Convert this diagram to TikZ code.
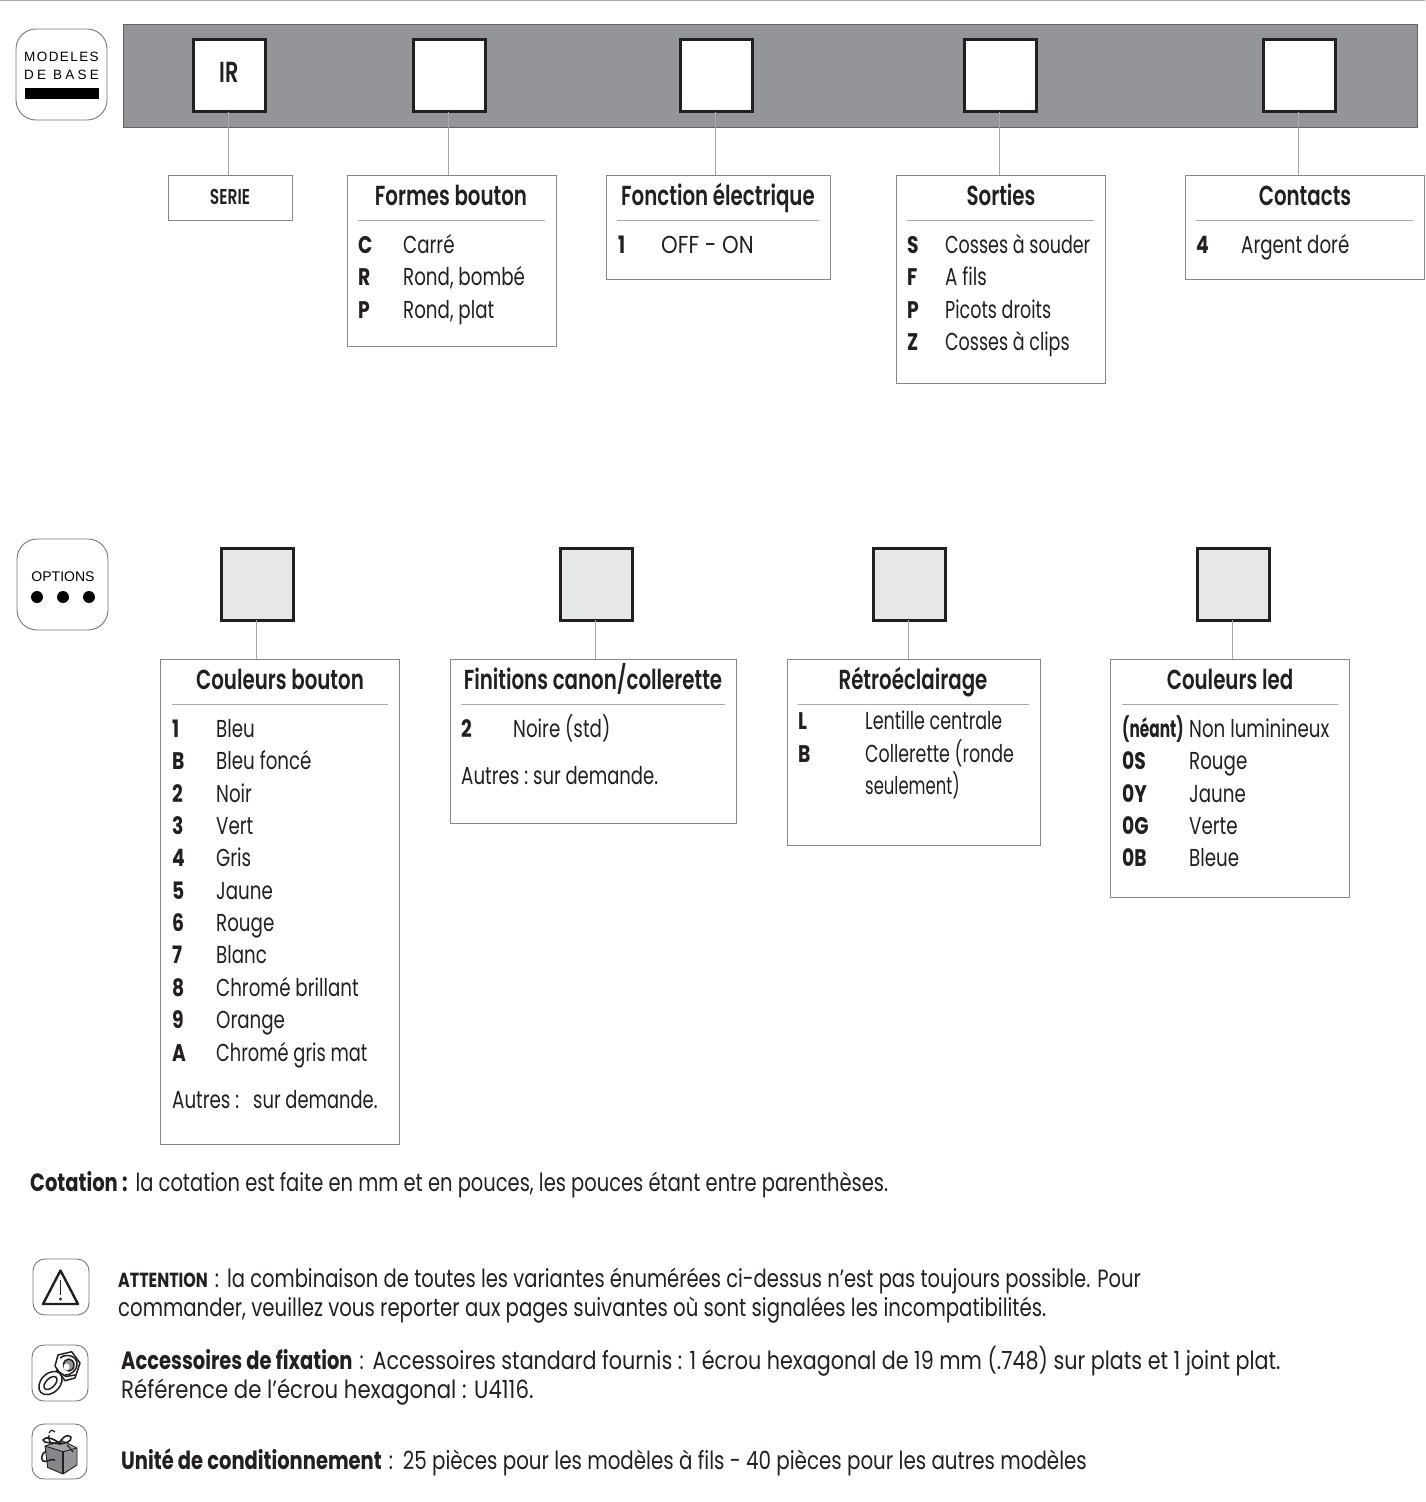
\documentclass[tikz,border=0pt]{standalone}
\usepackage{fontspec}
\setmainfont{Poppins}[FakeStretch=0.78]
\newfontfamily\lf{Poppins}[FakeStretch=0.745]
\newfontfamily\hf{Poppins SemiBold}[FakeStretch=0.72]
\newfontfamily\helv{Liberation Sans}
\usetikzlibrary{calc}
\definecolor{bandgray}{HTML}{939598}
\definecolor{ink}{HTML}{231F20}
\definecolor{optgray}{HTML}{E6E7E8}
\definecolor{rulegray}{HTML}{A7A9AC}
\newcount\tcnt
\newcommand{\txt}[4][]{\global\advance\tcnt by 1 \node[lbl,#1] (t\the\tcnt) at (#2,#3) {#4};}
\newcommand{\hd}[3]{\global\advance\tcnt by 1 \node[head] (t\the\tcnt) at (#1,#2) {#3};}
\newcommand{\itm}[4]{\txt[font=\fontsize{24}{24}\selectfont\bfseries]{#1}{#3}{#4}}
\newcommand{\lab}[3]{\txt{#1}{#2}{#3}}
\begin{document}
\begin{tikzpicture}[x=1pt,y=-1pt,line join=miter,
  lbl/.style={anchor=base west,inner sep=0pt,text=ink,font=\lf\fontsize{24.5}{24}\selectfont},
  para/.style={anchor=base west,inner sep=0pt,text=ink,font=\fontsize{25}{25}\selectfont},
  head/.style={anchor=base,inner sep=0pt,text=ink,font=\hf\fontsize{27.5}{27}\selectfont},
  bigsq/.style={draw=ink,line width=3pt,outer sep=0pt,anchor=north west,minimum width=72pt,minimum height=72pt,inner sep=0pt,fill=white,text=ink},
  optsq/.style={bigsq,fill=optgray},
  panel/.style={draw=rulegray!80!black,line width=0.9pt,outer sep=0pt,fill=white,anchor=north west,inner sep=0pt},
  link/.style={draw=rulegray,line width=1pt},
  hrule/.style={draw=rulegray,line width=0.8pt},
  icon/.style={draw=rulegray!70!black,line width=0.9pt,rounded corners=#1,fill=white}]
\useasboundingbox (0,0) rectangle (1425,1502);
\fill[rulegray] (0,0) rectangle (1425,1);
\fill[bandgray] (123,24) rectangle (1417,127);
\draw[ink!70,line width=0.7pt] (123,24) rectangle (1417,127);
% squares
\node[bigsq] (s1) at (193.3,39.5) {};
\node[anchor=base,inner sep=0pt,text=ink,font=\hf\fontsize{29}{29}\selectfont] (ir) at (229,82) {IR};
\node[bigsq] (s2) at (413.3,39.5) {};
\node[bigsq] (s3) at (680.3,39.5) {};
\node[bigsq] (s4) at (964.3,39.5) {};
\node[bigsq] (s5) at (1263.3,39.5) {};
\node[optsq] (o1) at (221.3,548.3) {};
\node[optsq] (o2) at (560.3,548.3) {};
\node[optsq] (o3) at (873.3,548.3) {};
\node[optsq] (o4) at (1197.3,548.3) {};
% panels
\node[panel,minimum width=124pt,minimum height=45pt] (b1) at (168.5,175) {};
\node[panel,minimum width=209pt,minimum height=171pt] (b2) at (347.5,175) {};
\node[panel,minimum width=224pt,minimum height=104pt] (b3) at (606,175) {};
\node[panel,minimum width=208.8pt,minimum height=208pt] (b4) at (896.7,175) {};
\node[panel,minimum width=238.8pt,minimum height=104pt] (b5) at (1185.7,175) {};
\node[panel,minimum width=238.8pt,minimum height=485pt] (p1) at (160.7,659) {};
\node[panel,minimum width=286pt,minimum height=164pt] (p2) at (450,659) {};
\node[panel,minimum width=253pt,minimum height=186pt] (p3) at (787,659) {};
\node[panel,minimum width=238.8pt,minimum height=238pt] (p4) at (1110.7,659) {};
% connectors
\foreach \a/\b in {s1/b1,s2/b2,s3/b3,s4/b4,s5/b5,o1/p1,o2/p2,o3/p3,o4/p4}
  \draw[link] ([xshift=-0.8pt]\a.south) -- ([xshift=-0.8pt]\a.south |- \b.north);
% header rules
\draw[hrule] (358,220) -- (545,220);
\draw[hrule] (617,220) -- (819,220);
\draw[hrule] (907,220) -- (1094,220);
\draw[hrule] (1196,220) -- (1413,220);
\draw[hrule] (172,704) -- (388,704);
\draw[hrule] (461,704) -- (725,704);
\draw[hrule] (798,704) -- (1029,704);
\draw[hrule] (1122,704) -- (1338,704);
% headers
\node[anchor=base,inner sep=0pt,text=ink,font=\hf\fontsize{21.5}{21}\selectfont] (serie) at (230,204) {SERIE};
\hd{451}{205}{Formes bouton}
\hd{718}{205}{Fonction électrique}
\hd{1001}{205}{Sorties}
\hd{1305}{205}{Contacts}
\hd{280}{689}{Couleurs bouton}
\hd{593}{689}{Finitions canon/collerette}
\hd{913}{689}{Rétroéclairage}
\hd{1230}{689}{Couleurs led}
% Formes
\itm{358}{403}{253}{C}\lab{403}{253}{Carré}
\itm{358}{403}{285}{R}\lab{403}{285}{Rond, bombé}
\itm{358}{403}{318}{P}\lab{403}{318}{Rond, plat}
% Fonction
\itm{618}{661}{253}{1}\lab{661}{253}{\scalebox{1.16}[1]{OFF - ON}}
% Sorties
\itm{907}{945}{253}{S}\lab{945}{253}{\scalebox{0.96}[1]{Cosses à souder}}
\itm{907}{945}{285}{F}\lab{945}{285}{A fils}
\itm{907}{945}{318}{P}\lab{945}{318}{\scalebox{0.96}[1]{Picots droits}}
\itm{907}{945}{350}{Z}\lab{945}{350}{\scalebox{0.96}[1]{Cosses à clips}}
% Contacts
\itm{1196}{1241}{253}{4}\lab{1241}{253}{Argent doré}
% Couleurs bouton
\itm{172}{216}{737}{1}\lab{216}{737}{Bleu}
\itm{172}{216}{769}{B}\lab{216}{769}{Bleu foncé}
\itm{172}{216}{802}{2}\lab{216}{802}{Noir}
\itm{172}{216}{834}{3}\lab{216}{834}{Vert}
\itm{172}{216}{866}{4}\lab{216}{866}{Gris}
\itm{172}{216}{899}{5}\lab{216}{899}{Jaune}
\itm{172}{216}{931}{6}\lab{216}{931}{Rouge}
\itm{172}{216}{963}{7}\lab{216}{963}{Blanc}
\itm{172}{216}{996}{8}\lab{216}{996}{Chromé brillant}
\itm{172}{216}{1028}{9}\lab{216}{1028}{Orange}
\itm{172}{216}{1061}{A}\lab{216}{1061}{\scalebox{0.975}[1]{Chromé gris mat}}
\lab{172}{1108}{Autres :\hspace{14pt}\scalebox{0.98}[1]{sur demande.}}
% Finitions
\itm{461}{513}{737}{2}\lab{513}{737}{Noire (std)}
\lab{461}{784}{Autres :\ \scalebox{0.985}[1]{sur demande.}}
% Retro
\itm{798}{865}{729}{L}\lab{865}{729}{\scalebox{0.96}[1]{Lentille centrale}}
\itm{798}{865}{762}{B}\lab{865}{762}{\scalebox{0.955}[1]{Collerette (ronde}}
\lab{865}{794}{\scalebox{0.90}[1]{seulement)}}
% Led
\itm{1122}{1189}{737}{\scalebox{0.82}[1]{(néant)}}\lab{1189}{737}{Non luminineux}
\itm{1122}{1189}{769}{0S}\lab{1189}{769}{Rouge}
\itm{1122}{1189}{802}{0Y}\lab{1189}{802}{Jaune}
\itm{1122}{1189}{834}{0G}\lab{1189}{834}{Verte}
\itm{1122}{1189}{866}{0B}\lab{1189}{866}{Bleue}
% paragraphs
\node[para] (c1) at (30,1191) {\textbf{Cotation :}\hspace{8pt}\scalebox{0.999}[1]{la cotation est faite en mm et en pouces, les pouces étant entre parenthèses.}};
\node[para] (a1) at (118,1287) {{\fontsize{20.4}{20}\selectfont\bfseries ATTENTION}\hspace{7pt}:\hspace{8pt}\scalebox{1.002}[1]{la combinaison de toutes les variantes énumérées ci-dessus n’est pas toujours possible. Pour}};
\node[para] (a2) at (118,1316) {\scalebox{1.011}[1]{commander, veuillez vous reporter aux pages suivantes où sont signalées les incompatibilités.}};
\node[para] (f1) at (121,1369) {\textbf{Accessoires de fixation}\hspace{7pt}:\hspace{9pt}\scalebox{1.061}[1]{Accessoires standard fournis : 1 écrou hexagonal de 19 mm (.748) sur plats et 1 joint plat.}};
\node[para] (f2) at (121,1398) {\scalebox{1.09}[1]{Référence de l’écrou hexagonal : U4116.}};
\node[para] (u1) at (121,1469) {\textbf{Unité de conditionnement}\hspace{7pt}:\hspace{10pt}\scalebox{1.019}[1]{25 pièces pour les modèles à fils - 40 pièces pour les autres modèles}};
% icon MODELES
\draw[icon=20pt] (16,29) rectangle (107,120);
\node[anchor=base west,inner sep=0pt,font=\helv\fontsize{13.5}{13.5}\selectfont] (m1) at (24,61) {\addfontfeature{LetterSpace=10.5}MODELES};
\node[anchor=base west,inner sep=0pt,font=\helv\fontsize{13.5}{13.5}\selectfont] (m2) at (24,79) {\addfontfeature{LetterSpace=24}DE BASE};
\fill[black] (25,88) rectangle (99,99);
% icon OPTIONS
\draw[icon=20pt] (17,539) rectangle (108,630);
\node[anchor=base,inner sep=0pt,font=\helv\fontsize{14}{14}\selectfont] (op) at (63,581) {OPTIONS};
\foreach \x in {37,63,89} \fill[black] (\x,597) circle (6pt);
% icon warning
\draw[icon=12pt] (33,1259) rectangle (89,1315);
\draw[ink,line width=2.4pt,line join=round] (60.5,1270.5) -- (78,1304) -- (43,1304) -- cycle;
\draw[ink,line width=1.9pt] (60.5,1280) -- (60.5,1295);
\fill[ink] (60.5,1299) circle (1.7pt);
% icon nut
\draw[icon=12pt] (32,1345) rectangle (88,1401);
\begin{scope}[ink,line width=1.5pt,line join=round]
  \draw[rotate around={45:(50.5,1383)}] (50.5,1383) ellipse (13.5pt and 9.5pt);
  \draw[rotate around={45:(50.5,1383)}] (50.5,1383) ellipse (8pt and 4.5pt);
  \draw[fill=white] (55,1366) -- (58,1355) -- (71.7,1351.7) -- (80,1363) -- (75,1378) -- (65,1380.7) -- cycle;
  \draw (56,1370) -- (66,1376.5) -- (75,1375);
  \draw (60,1358) .. controls (64,1354) and (74,1354) .. (77,1362) .. controls (78,1370) and (70,1376) .. (65,1375);
  \draw[fill=bandgray] (68.8,1365) ellipse (5.2pt and 6pt);
  \fill[white] (66.5,1367) ellipse (3pt and 3.5pt);
\end{scope}
% icon gift
\draw[icon=12pt] (32,1424) rectangle (87,1479);
\begin{scope}[ink,line width=0.9pt,line join=round]
  \fill[bandgray!90!black] (45,1446) -- (63,1451.7) -- (63,1474) -- (47.7,1467.5) -- cycle;
  \fill[bandgray] (63,1451.7) -- (77,1448) -- (77,1465) -- (63,1474) -- cycle;
  \fill[bandgray!85] (45,1446) -- (61.7,1440.5) -- (77,1448) -- (63,1451.7) -- cycle;
  \draw (45,1446) -- (63,1451.7) -- (77,1448) -- (61.7,1440.5) -- cycle;
  \draw (45,1446) -- (47.7,1467.5) -- (63,1474) -- (77,1465) -- (77,1448);
  \draw[line width=1.6pt] (63,1451.7) -- (63,1474);
  \draw[line width=1.6pt] (60,1444) .. controls (52,1442) and (44,1444) .. (43,1440) .. controls (45,1436) and (54,1438) .. (60,1444);
  \draw[line width=1.6pt] (60,1444) .. controls (60,1438) and (68,1433) .. (71,1437) .. controls (72,1442) and (65,1443) .. (60,1444);
  \draw[line width=1.2pt] (49,1433) .. controls (51,1429) and (54,1430) .. (55,1432);
  \draw[line width=1.3pt] (49,1435) .. controls (48,1440) and (50,1443) .. (53,1444);
  \draw[line width=1.6pt] (46,1451) .. controls (41,1454) and (41,1459) .. (43,1461) .. controls (47,1463) and (50,1458) .. (55,1460);
  \draw[line width=1.2pt] (67,1445) .. controls (70,1447) and (71,1450) .. (73,1452);
\end{scope}
\end{tikzpicture}
\end{document}
